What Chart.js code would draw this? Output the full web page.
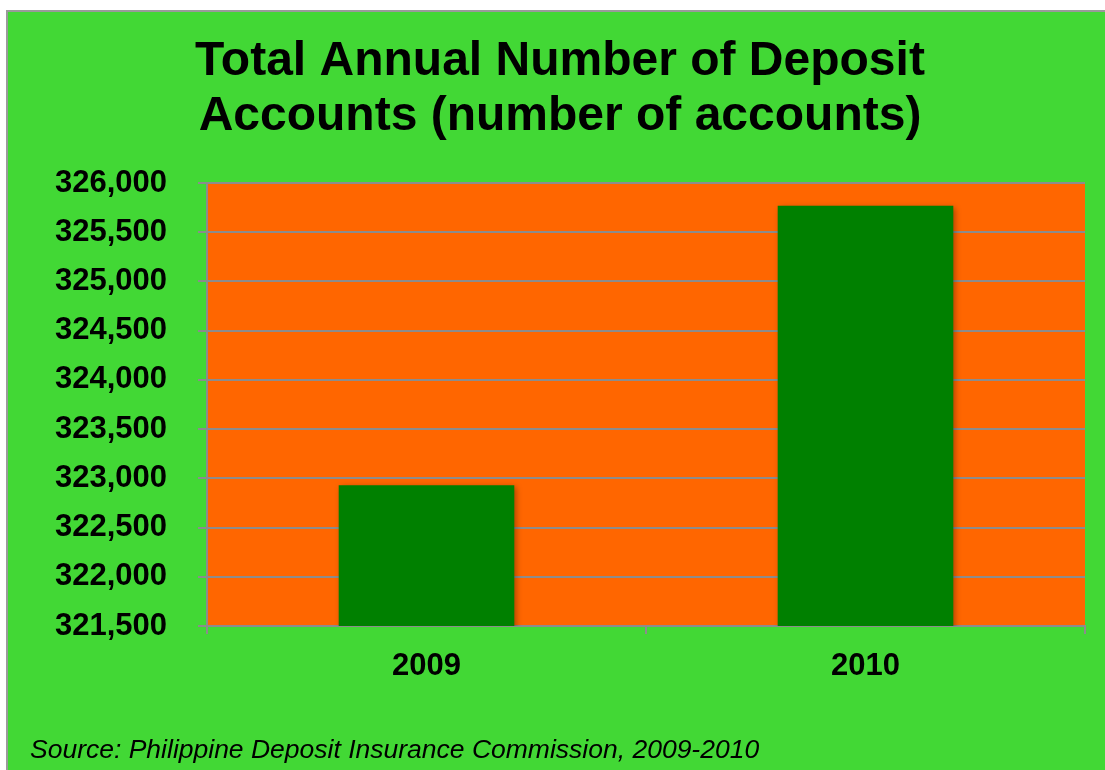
<!DOCTYPE html>
<html>
<head>
<meta charset="utf-8">
<script src="https://cdn.jsdelivr.net/npm/chart.js@4"></script>
<style>
  html, body { margin: 0; padding: 0; background: #fff; }
  #wrap { width: 1105px; height: 770px; }
</style>
</head>
<body>
<div id="wrap"><canvas id="bar-chart" width="1105" height="770"></canvas></div>
<script>
var years = ['2009', '2010'];
var accounts = [322930, 325770];
var titleLines = ['Total Annual Number of Deposit', 'Accounts (number of accounts)'];
var sourceText = 'Source: Philippine Deposit Insurance Commission, 2009-2010';

var font = '"Liberation Sans", Arial, sans-serif';

// green panel, orange plot area, title and source line
var backdrop = {
    id: 'backdrop',
    beforeDraw: function(chart) {
        var ctx = chart.ctx, a = chart.chartArea;
        ctx.save();
        ctx.fillStyle = '#ffffff';
        ctx.fillRect(0, 0, chart.width, chart.height);
        ctx.fillStyle = '#42d835';
        ctx.fillRect(7, 11, chart.width - 7, chart.height - 11);
        ctx.strokeStyle = '#9a9a9a';
        ctx.lineWidth = 2;
        ctx.beginPath();
        ctx.moveTo(7, chart.height);
        ctx.lineTo(7, 11);
        ctx.lineTo(chart.width, 11);
        ctx.stroke();
        ctx.fillStyle = '#ff6600';
        ctx.fillRect(a.left, a.top, a.right - a.left, a.bottom - a.top);

        ctx.fillStyle = '#000';
        ctx.textAlign = 'center';
        ctx.textBaseline = 'alphabetic';
        ctx.font = 'bold 48px ' + font;
        ctx.fillText(titleLines[0], 560, 75);
        ctx.fillText(titleLines[1], 560, 130);
        ctx.textAlign = 'left';
        ctx.font = 'italic 26.5px ' + font;
        ctx.fillText(sourceText, 30, 758);
        ctx.restore();
    },
    beforeDatasetsDraw: function(chart) {
        var ctx = chart.ctx;
        ctx.save();
        ctx.shadowColor = 'rgba(0,0,0,0.35)';
        ctx.shadowBlur = 6;
        ctx.shadowOffsetX = 2;
        ctx.shadowOffsetY = 2;
    },
    afterDatasetsDraw: function(chart) {
        chart.ctx.restore();
    }
};

window.onload = function(){
    new Chart(document.getElementById('bar-chart'), {
        type: 'bar',
        data: {
            labels: years,
            datasets: [{
                label: 'Deposit accounts',
                data: accounts,
                backgroundColor: '#008000',
                borderWidth: 0,
                barPercentage: 0.4,
                categoryPercentage: 1
            }]
        },
        plugins: [backdrop],
        options: {
            responsive: false,
            animation: false,
            layout: { padding: { left: 0, top: 183, right: 20, bottom: 0 } },
            plugins: {
                legend: { display: false },
                title: { display: false },
                tooltip: { enabled: false }
            },
            scales: {
                x: {
                    afterFit: function(s) { s.height = 144; },
                    grid: { drawOnChartArea: false, drawTicks: true, tickLength: 8, color: '#8c8c8c', lineWidth: 2 },
                    border: { color: '#8c8c8c', width: 2 },
                    ticks: { color: '#000', padding: 14, font: { family: font, size: 31, weight: 'bold' } }
                },
                y: {
                    min: 321500,
                    max: 326000,
                    afterFit: function(s) { s.width = 207; },
                    grid: { color: '#8c8c8c', lineWidth: 2, tickLength: 9 },
                    border: { color: '#8c8c8c', width: 2 },
                    ticks: {
                        stepSize: 500,
                        color: '#000',
                        padding: 31,
                        font: { family: font, size: 31, weight: 'bold' },
                        callback: function(v) { return v.toLocaleString('en-US'); }
                    }
                }
            }
        }
    });
};
</script>
</body>
</html>
